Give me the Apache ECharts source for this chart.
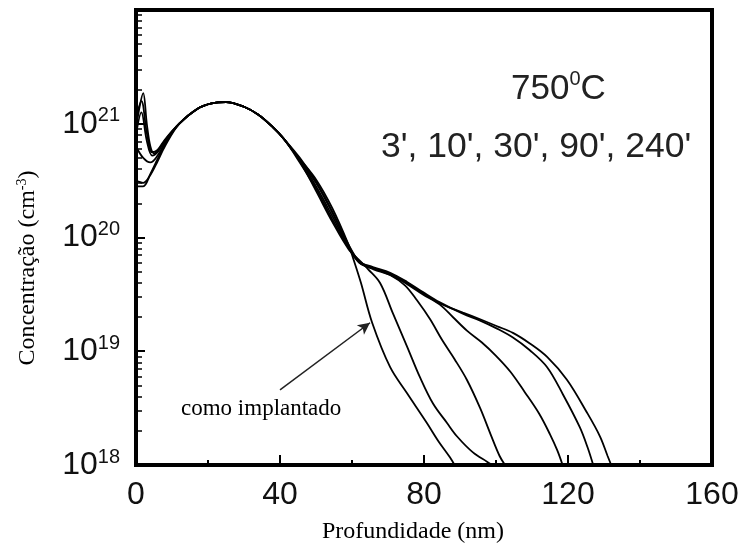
<!DOCTYPE html>
<html>
<head>
<meta charset="utf-8">
<script src="https://cdn.jsdelivr.net/npm/echarts@6/dist/echarts.min.js"></script>
<style>html,body{margin:0;padding:0;background:#fff}#c{width:747px;height:549px}</style>
</head>
<body>
<div id="c"></div>
<script>
// ---- data (depth nm, concentration cm^-3) ----
const xTicks = [0, 40, 80, 120, 160];
const yTickExps = [18, 19, 20, 21];
const annealLabel = "3', 10', 30', 90', 240'";

const curveAsImplanted = [[0,8.91e20],[1,1.41e21],[2,1.86e21],[3,1.0e21],[4,6.31e20],[5,5.5e20],[6,5.75e20],[8,7.08e20],[12,1.0e21],[17,1.35e21],[21,1.51e21],[25,1.55e21],[30,1.41e21],[34,1.2e21],[38,9.33e20],[41,7.41e20],[45.5,4.9e20],[50,3.24e20],[54.5,1.82e20],[59,8.71e19],[60.5,6.31e19],[62.5,3.98e19],[65.6,1.78e19],[70.6,7.24e18],[75.3,4.27e18],[80.8,2.34e18],[84,1.62e18],[87.2,1.17e18],[88.5,1.0e18]];
const curve3min = [[0,1.12e21],[1.5,1.58e21],[3,8.32e20],[4.5,5.62e20],[6,5.89e20],[8,7.24e20],[12,1.0e21],[17,1.35e21],[21,1.51e21],[25,1.55e21],[30,1.41e21],[34,1.2e21],[38,9.33e20],[41,7.41e20],[45.5,4.68e20],[50,2.57e20],[54.5,1.38e20],[59,7.94e19],[62,6.31e19],[64.5,5.25e19],[67.8,3.98e19],[71.4,2.14e19],[75.3,1.1e19],[78.9,5.89e18],[82.5,3.47e18],[86.4,2.34e18],[89.2,1.78e18],[93.6,1.29e18],[97.5,1.07e18],[99,1.0e18]];
const curve10min = [[0,6.31e20],[2,5.01e20],[4,4.57e20],[6,5.25e20],[8,6.76e20],[12,1.0e21],[17,1.35e21],[21,1.51e21],[25,1.55e21],[30,1.41e21],[34,1.2e21],[38,9.33e20],[41,7.41e20],[45.5,4.79e20],[50,3.02e20],[54.5,1.66e20],[59,8.71e19],[62,6.17e19],[66,5.37e19],[70.6,4.68e19],[74.7,3.8e19],[78,2.82e19],[81.7,1.91e19],[85,1.26e19],[88.5,8.51e18],[91.9,5.62e18],[95.6,3.16e18],[98.5,1.86e18],[101,1.2e18],[102.5,1.0e18]];
const curve30min = [[0,3.16e20],[2,3.02e20],[4,3.55e20],[6,4.68e20],[8,6.31e20],[12,1.0e21],[17,1.35e21],[21,1.51e21],[25,1.55e21],[30,1.41e21],[34,1.2e21],[38,9.33e20],[41,7.41e20],[45.5,4.57e20],[50,2.69e20],[54.5,1.45e20],[59,8.13e19],[62,6.03e19],[66,5.25e19],[70.6,4.68e19],[75.3,3.89e19],[79.7,3.16e19],[84.4,2.57e19],[88,2.0e19],[92,1.51e19],[96,1.2e19],[100,9.12e18],[104,6.61e18],[108,4.37e18],[112,2.82e18],[115,1.86e18],[117,1.35e18],[118.5,1.0e18]];
const curve90min = [[0,2.82e20],[2,2.82e20],[4,3.63e20],[6,4.9e20],[8,6.61e20],[12,1.0e21],[17,1.35e21],[21,1.51e21],[25,1.55e21],[30,1.41e21],[34,1.2e21],[38,9.33e20],[41,7.41e20],[45.5,5.01e20],[50,3.09e20],[54.5,1.7e20],[59,8.51e19],[62,6.17e19],[65.8,5.5e19],[70.6,4.9e19],[75.3,4.07e19],[79.7,3.31e19],[84.4,2.69e19],[90.8,2.14e19],[95.6,1.86e19],[100.3,1.58e19],[104.7,1.32e19],[109.4,1.02e19],[114.2,7.24e18],[118.6,4.17e18],[123.3,2.14e18],[125.5,1.41e18],[127,1.0e18]];
const curve240min = [[0,7.94e20],[1.5,1.26e21],[3,7.08e20],[4.5,5.25e20],[6,5.62e20],[8,7.08e20],[12,1.0e21],[17,1.35e21],[21,1.51e21],[25,1.55e21],[30,1.41e21],[34,1.2e21],[38,9.33e20],[41,7.41e20],[45.5,4.79e20],[50,2.82e20],[54.5,1.55e20],[59,8.32e19],[62,6.03e19],[65.8,5.37e19],[70.6,4.79e19],[75.3,3.98e19],[79.7,3.24e19],[84.4,2.63e19],[90.8,2.19e19],[95.6,1.91e19],[100.3,1.66e19],[104.7,1.45e19],[109.4,1.17e19],[114.2,8.91e18],[119.7,5.62e18],[125.3,2.88e18],[128.9,1.78e18],[131,1.2e18],[132,1.0e18]];

const arrowFrom = [40, 4.57e18];
const arrowTo = [65, 1.78e19];

// minor tick positions for log axis (2..9 x 10^n)
const yMinor = [];
for (let e = 18; e < 22; e++) for (let m = 2; m <= 9; m++) yMinor.push(m * Math.pow(10, e));

const SANS = 'Liberation Sans, Arial, Helvetica, sans-serif';
const SERIF = 'Liberation Serif, Times New Roman, serif';

function lineSeries(name, data, extra) {
  return Object.assign({
    name: name, type: 'line', data: data, showSymbol: false, smooth: 0.35,
    lineStyle: { color: '#000', width: 1.8 }, itemStyle: { color: '#000' },
    silent: true, animation: false, z: 3
  }, extra || {});
}

const chart = echarts.init(document.getElementById('c'), null, { renderer: 'canvas' });
chart.setOption({
  animation: false,
  backgroundColor: '#fff',
  grid: { left: 136, right: 35, top: 10, bottom: 84, show: true, borderColor: '#000', borderWidth: 4, containLabel: false, outerBoundsMode: 'none' },
  xAxis: {
    type: 'value', min: xTicks[0], max: xTicks[xTicks.length - 1], interval: 40,
    axisLine: { lineStyle: { color: '#000', width: 4 } },
    axisTick: { inside: true, length: 10, lineStyle: { color: '#000', width: 2 } },
    minorTick: { show: true, splitNumber: 2, length: 5, lineStyle: { color: '#000', width: 2 } },
    splitLine: { show: false },
    axisLabel: { fontFamily: SANS, fontSize: 32, color: '#111', margin: 14 },
    name: 'Profundidade (nm)', nameLocation: 'middle', nameGap: 55,
    nameTextStyle: { fontFamily: SERIF, fontSize: 24, color: '#000', padding: [0, 22, 0, 0] }
  },
  yAxis: [{
    type: 'log', logBase: 10, min: 1e18, max: 1e22,
    axisLine: { lineStyle: { color: '#000', width: 4 } },
    axisTick: { inside: true, length: 9, lineStyle: { color: '#000', width: 2 } },
    splitLine: { show: false },
    axisLabel: {
      margin: 16,
      formatter: function (v) {
        const e = Math.round(Math.log10(v));
        if (yTickExps.indexOf(e) < 0) return '';
        return '{b|10}{s|' + e + '}';
      },
      rich: {
        b: { fontFamily: SANS, fontSize: 32, color: '#111', lineHeight: 36 },
        s: { fontFamily: SANS, fontSize: 20, color: '#111', lineHeight: 22, verticalAlign: 'top' }
      }
    }
  }, {
    type: 'log', logBase: 10, min: 1e18, max: 1e22, position: 'left',
    axisLine: { show: false },
    axisLabel: { show: false },
    splitLine: { show: false },
    axisTick: { show: true, inside: true, length: 6, customValues: yMinor, lineStyle: { color: '#000', width: 1.5 } }
  }],
  series: [
    lineSeries('como implantado', curveAsImplanted, {
      markLine: {
        silent: true, symbol: ['none', 'arrow'], symbolSize: [9, 12],
        label: { show: false },
        lineStyle: { color: '#222', width: 1.5, type: 'solid' },
        data: [[{ coord: arrowFrom }, { coord: arrowTo }]]
      }
    }),
    lineSeries("3'", curve3min),
    lineSeries("10'", curve10min),
    lineSeries("30'", curve30min),
    lineSeries("90'", curve90min),
    lineSeries("240'", curve240min)
  ],
  graphic: [
    {
      type: 'text', left: 511, top: 69, silent: true,
      style: {
        text: '{a|750}{s|0}{a|C}',
        rich: {
          a: { fontFamily: SANS, fontSize: 35, fill: '#222', lineHeight: 40 },
          s: { fontFamily: SANS, fontSize: 20, fill: '#222', lineHeight: 20, verticalAlign: 'top' }
        }
      }
    },
    {
      type: 'text', left: 381, top: 129, silent: true,
      style: { text: annealLabel, font: '35.5px ' + SANS, fill: '#222' }
    },
    {
      type: 'text', left: 181, top: 397, silent: true,
      style: { text: 'como implantado', font: '23px ' + SERIF, fill: '#000' }
    },
    {
      type: 'text', x: 28, y: 268, rotation: Math.PI / 2, silent: true,
      style: {
        text: '{a|Concentração (cm}{s|-3}{a|)}',
        align: 'center', verticalAlign: 'middle',
        rich: {
          a: { fontFamily: SERIF, fontSize: 24, fill: '#000', lineHeight: 26 },
          s: { fontFamily: SERIF, fontSize: 14, fill: '#000', lineHeight: 14, verticalAlign: 'top' }
        }
      }
    }
  ]
});
</script>
</body>
</html>
